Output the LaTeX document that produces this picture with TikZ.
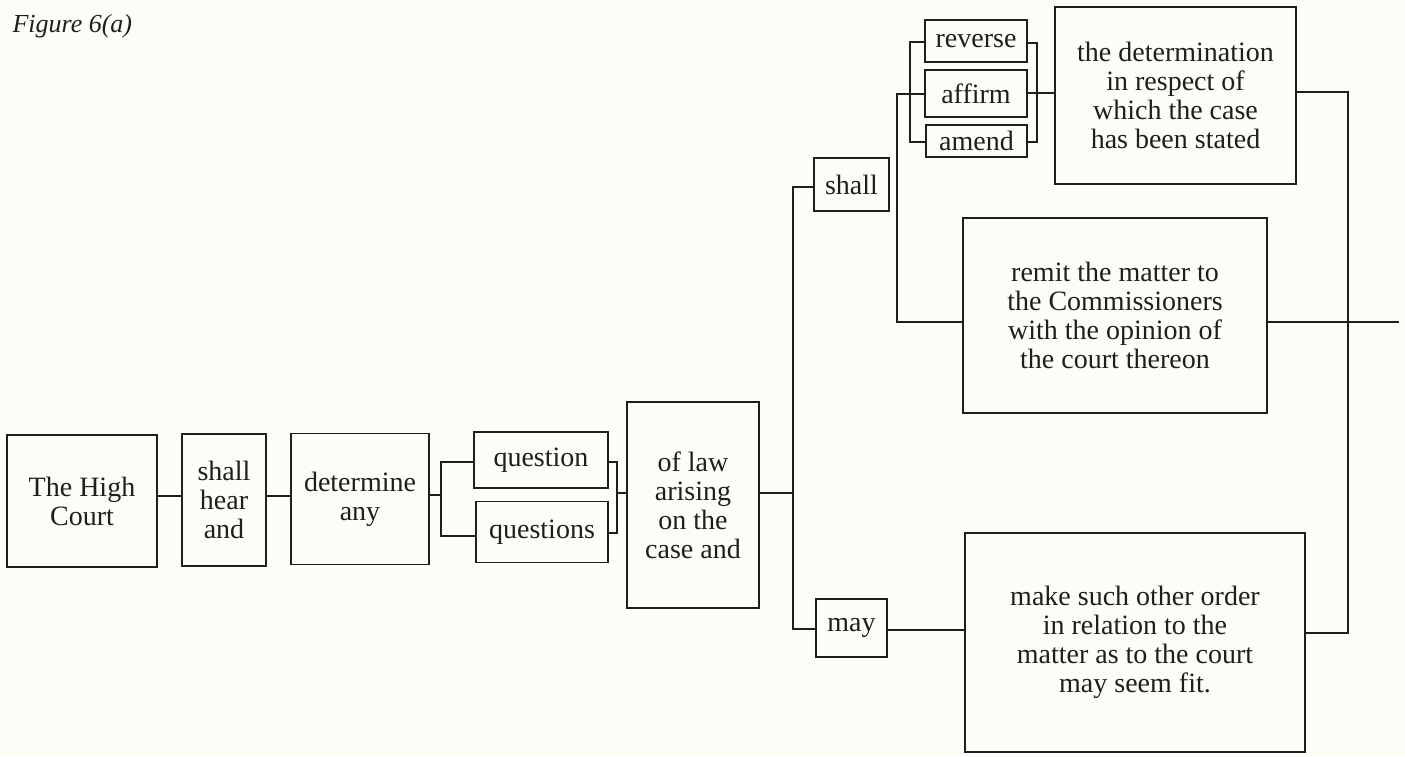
\documentclass[tikz,border=0pt]{standalone}
\usepackage{fontspec}
\setmainfont{Liberation Serif}
\definecolor{paper}{HTML}{FDFDF8}
\definecolor{ink}{HTML}{1E1E1E}
\newcommand{\boxfont}{\fontsize{28}{29}\selectfont}
\newcommand{\titlefont}{\fontsize{26}{28}\selectfont\itshape}
\begin{document}
\begin{tikzpicture}[x=1pt,y=-1pt,
  box/.style={draw=ink, line width=1.9pt, inner sep=0pt, align=center, font=\boxfont, text=ink},
  conn/.style={draw=ink, line width=1.9pt}]
\fill[paper] (0,0) rectangle (1405,756);
\useasboundingbox (0,0) rectangle (1405,756);

\node[anchor=base west, font=\titlefont, text=ink] (title) at (9,32) {Figure 6(a)};

% boxes (centre, width, height in px)
\node[box, minimum width=150, minimum height=132] (hc)  at (82,501)   {The High\\Court};
\node[box, minimum width=84,  minimum height=132] (sha) at (224,500)  {shall\\hear\\and};
\node[box, minimum width=138, minimum height=131] (det) at (360,499)  {determine\\any};
\node[box, minimum width=134, minimum height=56]  (q1)  at (541,460)  {question};
\node[box, minimum width=132, minimum height=61]  (q2)  at (542,532)  {questions};
\node[box, minimum width=132, minimum height=206] (law) at (693,505)  {of law\\arising\\on the\\case and};
\node[box, minimum width=75,  minimum height=53]  (shall) at (851.5,184.5) {shall};
\node[box, minimum width=102, minimum height=42]  (rev) at (976,41)   {reverse};
\node[box, minimum width=102, minimum height=47]  (aff) at (976,93.5) {affirm};
\node[box, minimum width=101, minimum height=32]  (ame) at (976.5,141) {amend};
\node[box, minimum width=241, minimum height=177] (dtm) at (1175.5,95.5) {the determination\\in respect of\\which the case\\has been stated};
\node[box, minimum width=304, minimum height=195] (rem) at (1115,315.5) {remit the matter to\\the Commissioners\\with the opinion of\\the court thereon};
\node[box, minimum width=71,  minimum height=58]  (may) at (851.5,628) {may};
\node[box, minimum width=340, minimum height=219] (mak) at (1135,642.5) {make such other order\\in relation to the\\matter as to the court\\may seem fit.};

% junction points
\coordinate (f1) at (441,495);
\coordinate (f2) at (617,493);
\coordinate (f3) at (793,493);
\coordinate (f4) at (897,94);
\coordinate (f5) at (910,142);
\coordinate (f6) at (1037,142);
\coordinate (f7) at (1348,92);
\coordinate (endR) at (1399,322);

% connectors
\draw[conn] (hc.east |- 0,496) -- (sha.west |- 0,496);
\draw[conn] (sha.east |- 0,496) -- (det.west |- 0,496);
\draw[conn] (det.east |- f1) -- (f1);
\draw[conn] (q1.west |- 0,462) -| (f1) |- (q2.west |- 0,536);
\draw[conn] (q1.east |- 0,462) -| (f2) |- (q2.east |- 0,533);
\draw[conn] (f2) -- (law.west |- f2);
\draw[conn] (law.east |- f3) -- (f3);
\draw[conn] (shall.west |- 0,187) -| (f3) |- (may.west |- 0,629);
\draw[conn] (aff.west |- f4) -- (f4) |- (rem.west |- 0,322);
\draw[conn] (rev.west |- 0,42) -| (f5) -- (ame.west |- f5);
\draw[conn] (rev.east |- 0,43) -| (f6) -- (ame.east |- f6);
\draw[conn] (aff.east |- 0,93) -- (dtm.west |- 0,93);
\draw[conn] (dtm.east |- f7) -- (f7) |- (mak.east |- 0,633);
\draw[conn] (rem.east |- endR) -- (endR);
\draw[conn] (may.east |- 0,630) -- (mak.west |- 0,630);
\end{tikzpicture}
\end{document}
